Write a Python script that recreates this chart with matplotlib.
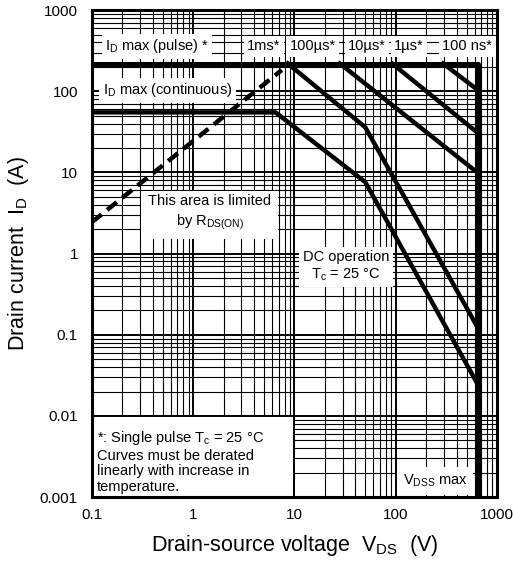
import matplotlib
matplotlib.use('Agg')
import matplotlib.pyplot as plt
from matplotlib.patches import Rectangle
from matplotlib.ticker import LogLocator, NullFormatter

plt.rcParams['font.family'] = ['Liberation Sans', 'DejaVu Sans']
plt.rcParams['mathtext.fontset'] = 'custom'
plt.rcParams['mathtext.rm'] = 'Liberation Sans'
plt.rcParams['mathtext.it'] = 'Liberation Sans:italic'

# Limits (V, A)
vdss = 650
id_pulse = 220
id_cont = 55

# Safe operating area curves
dc_v = [0.1, 6.5, 50, 650]
dc_i = [55, 55, 7.6, 0.024]
ms1_v = [8.6, 50, 650]
ms1_i = [220, 36, 0.12]
us100_v = [28, 650]
us100_i = [220, 9.8]
us10_v = [92, 650]
us10_i = [220, 30.5]
us1_v = [293, 650]
us1_i = [220, 103]
rds_v = [0.1, 7.5]
rds_i = [2.44, 183]

x_ticks = [0.1, 1, 10, 100, 1000]
x_labels = ['0.1', '1', '10', '100', '1000']
y_ticks = [0.001, 0.01, 0.1, 1, 10, 100, 1000]
y_labels = ['0.001', '0.01', '0.1', '1', '10', '100', '1000']

pulse_labels = ['1ms*', '100µs*', '10µs*', '1µs*', '100 ns*']
pulse_label_x = [5.0, 15.2, 52, 135, 506]

fig = plt.figure(figsize=(5.13, 5.63), dpi=100)
ax = fig.add_axes([0.179, 0.117, 0.790, 0.865])
ax.set_xscale('log')
ax.set_yscale('log')
ax.set_xlim(0.1, 1000)
ax.set_ylim(0.001, 1000)

ax.xaxis.set_minor_locator(LogLocator(base=10, subs=range(2, 10), numticks=20))
ax.yaxis.set_minor_locator(LogLocator(base=10, subs=range(2, 10), numticks=20))
ax.xaxis.set_minor_formatter(NullFormatter())
ax.yaxis.set_minor_formatter(NullFormatter())
ax.set_xticks(x_ticks, x_labels)
ax.set_yticks(y_ticks, y_labels)
ax.tick_params(which='both', length=0, labelsize=11)
ax.tick_params(axis='x', pad=8)
ax.tick_params(axis='y', pad=10)

ax.set_axisbelow(True)
ax.grid(which='major', color='black', linewidth=1.4)
ax.grid(which='minor', color='black', linewidth=0.8)
for s in ax.spines.values():
    s.set_linewidth(2.2)

lw = 3.2
ax.plot([0.1, vdss, vdss], [id_pulse, id_pulse, 0.001], color='black', lw=lw + 0.4, zorder=4)
ax.plot(dc_v, dc_i, color='black', lw=lw, zorder=4)
ax.plot(ms1_v, ms1_i, color='black', lw=lw, zorder=4)
ax.plot(us100_v, us100_i, color='black', lw=lw, zorder=4)
ax.plot(us10_v, us10_i, color='black', lw=lw, zorder=4)
ax.plot(us1_v, us1_i, color='black', lw=lw, zorder=4)
ax.plot(rds_v, rds_i, color='black', lw=lw, ls=(0, (2.8, 1.6)), zorder=4)

box = dict(facecolor='white', edgecolor='none', pad=2.5)
fs = 10.5

ax.text(0.44, 360, r'I$_{\mathrm{D}}$ max (pulse) *', fontsize=fs,
        ha='center', va='center', bbox=box, zorder=3)
ax.text(0.56, 103, r'I$_{\mathrm{D}}$ max (continuous)', fontsize=fs,
        ha='center', va='center', bbox=box, zorder=3)
for lab, xv in zip(pulse_labels, pulse_label_x):
    ax.text(xv, 360, lab, fontsize=fs, ha='center', va='center', bbox=box, zorder=3)

ax.text(1.46, 3.16, 'This area is limited\n' + r'by R$_{\mathrm{DS(ON)}}$', fontsize=fs,
        ha='center', va='center', linespacing=1.3, bbox=dict(facecolor='white', edgecolor='none', pad=5),
        zorder=3)
ax.text(32.3, 0.70, 'DC operation\n' + r'T$_{\mathrm{c}}$ = 25 °C', fontsize=fs,
        ha='center', va='center', linespacing=1.25, bbox=dict(facecolor='white', edgecolor='none', pad=3),
        zorder=3)

ax.add_patch(Rectangle((0.1, 0.001), 9.9, 0.009, facecolor='white', edgecolor='black',
                       linewidth=1.4, zorder=2.5))
ax.text(0.112, 0.00275, '*: Single pulse ' + r'T$_{\mathrm{c}}$' + ' = 25 °C\nCurves must be derated\n'
        'linearly with increase in\ntemperature.', fontsize=fs, ha='left', va='center',
        linespacing=1.15, zorder=3)

ax.text(244, 0.00157, r'V$_{\mathrm{DSS}}$ max', fontsize=fs, ha='center', va='center',
        bbox=dict(facecolor='white', edgecolor='none', pad=4), zorder=3)

ax.set_xlabel(r'Drain-source voltage  V$_{\mathrm{DS}}$  (V)', fontsize=15.5, labelpad=8)
ax.set_ylabel(r'Drain current  I$_{\mathrm{D}}$  (A)', fontsize=15.5, labelpad=6)

fig.savefig('out.png', dpi=100)
